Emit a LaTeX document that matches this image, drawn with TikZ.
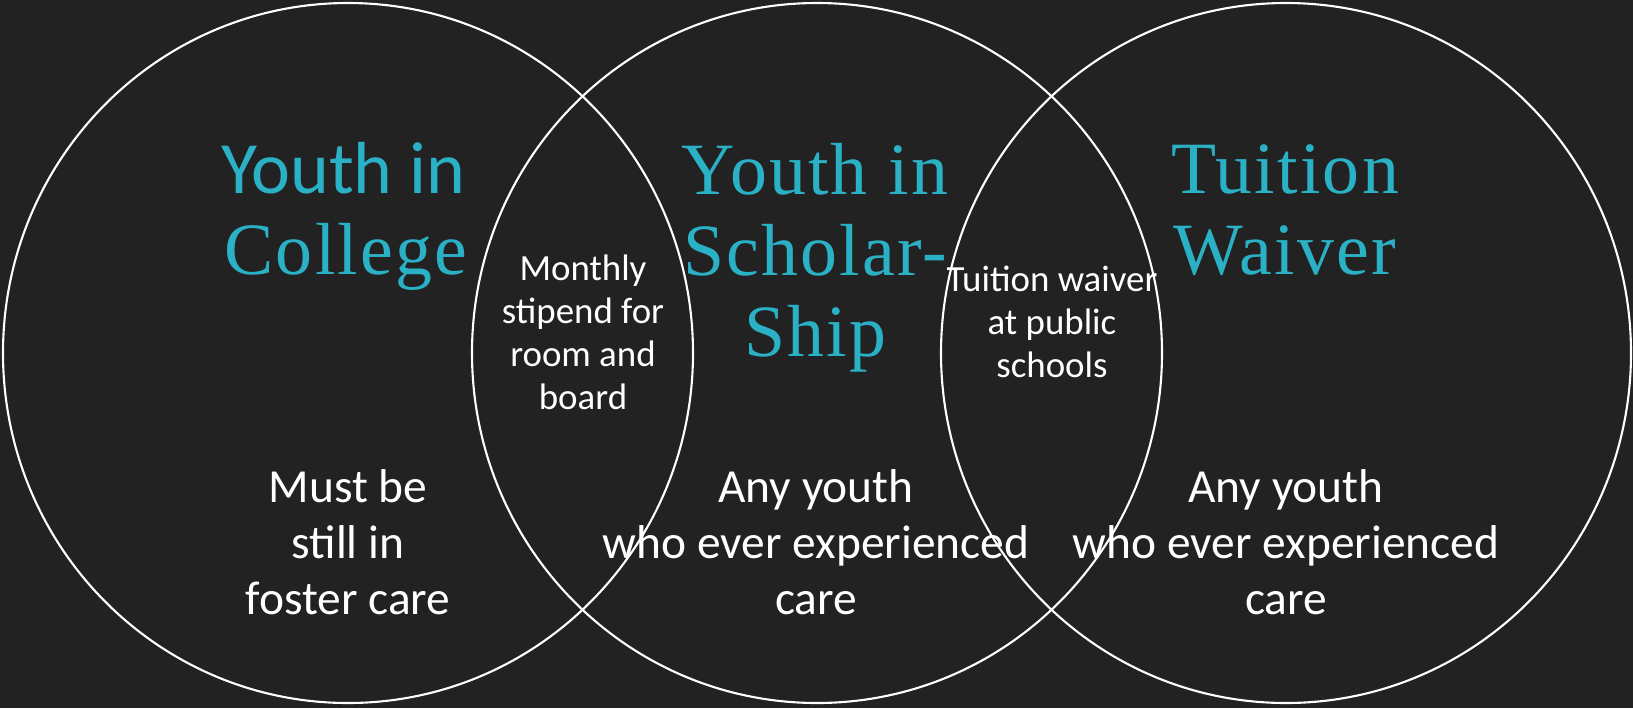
\documentclass[tikz,border=0pt]{standalone}
\usepackage{fontspec}
\setmainfont{Carlito}
\newfontfamily\titleserif{Liberation Serif}[LetterSpace=3]
\definecolor{bg}{RGB}{34,34,34}
\definecolor{teal}{RGB}{43,177,197}
\tikzset{
  title/.style={text=teal,align=center,anchor=base,font=\fontsize{42}{46}\selectfont},
  body/.style={text=white,align=center,anchor=base,font=\fontsize{27}{31.6}\selectfont},
  small/.style={text=white,align=center,anchor=base,font=\fontsize{21}{24.4}\selectfont}
}
\begin{document}
\begin{tikzpicture}[x=0.02cm,y=-0.02cm]
      \fill[bg] (0,0) rectangle (1633,708);
      \useasboundingbox (0,0) rectangle (1633,708);

      \draw[white,line width=1.2pt] (348,353) ellipse [x radius=345,y radius=350];
      \draw[white,line width=1.2pt] (817,353) ellipse [x radius=345,y radius=350];
      \draw[white,line width=1.2pt] (1286,353) ellipse [x radius=345,y radius=350];

      \node[title] (college1) at (343,193) {Youth in};
      \node[title] (college2) at (346,274) {\titleserif College};
      \node[title] (scholar) at (815,356) {\titleserif Youth in\\ \titleserif Scholar-\\ \titleserif Ship};
      \node[title] (waiver) at (1285,274) {\titleserif Tuition\\ \titleserif Waiver};

      \node[small] (stipend) at (583,409) {Monthly\\stipend for\\room and\\board};
      \node[small] (tuition) at (1052,377) {Tuition waiver\\at public\\schools};

      \node[body] (foster) at (348,614) {Must be\\still in\\foster care};
      \node[body] (anyleft) at (816,614) {Any youth\\who ever experienced\\care};
      \node[body] (anyright) at (1286,614) {Any youth\\who ever experienced\\care};
    \end{tikzpicture}
\end{document}
